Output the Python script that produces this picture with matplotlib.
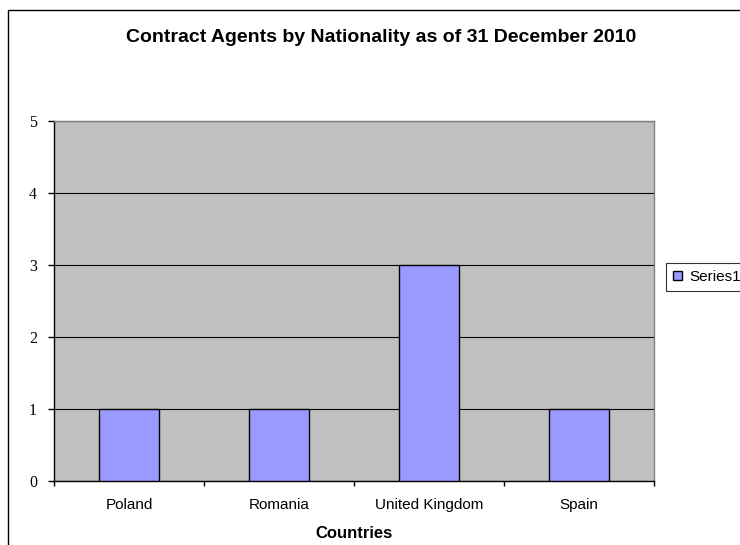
import numpy as np
import matplotlib.pyplot as plt
from matplotlib.patches import Rectangle

# data
countries = ['Poland', 'Romania', 'United Kingdom', 'Spain']
agents = [1, 1, 3, 1]
y_ticks = [0, 1, 2, 3, 4, 5]

W, H = 740, 545
fig = plt.figure(figsize=(W / 100, H / 100), dpi=100)

# chart border (runs off the right/bottom edge like the original)
fig.patches.append(Rectangle((8 / W, -0.1), 1.2, 1 - 10 / H + 0.1, transform=fig.transFigure,
                             fill=False, edgecolor='black', linewidth=1.0))

ax = fig.add_axes([54 / W, 1 - 481 / H, 600 / W, 360 / H])
ax.set_facecolor('#c0c0c0')

x = np.arange(len(countries))
ax.bar(x, agents, width=0.4, color='#9999ff', edgecolor='black', linewidth=1.0,
       label='Series1', zorder=3)

ax.set_xlim(-0.5, len(countries) - 0.5)
ax.set_ylim(0, 5)
ax.set_yticks(y_ticks)
ax.set_yticklabels([str(v) for v in y_ticks], family='Liberation Serif', fontsize=11.5)
ax.yaxis.grid(True, color='black', linewidth=0.8, zorder=1)
ax.set_axisbelow(True)

# category labels between boundary ticks
ax.set_xticks(np.arange(len(countries) + 1) - 0.5)
ax.set_xticklabels([])
ax.set_xticks(x, minor=True)
ax.set_xticklabels(countries, minor=True, family='Liberation Sans', fontsize=11)
ax.tick_params(axis='x', which='minor', length=0, pad=12)
ax.tick_params(axis='x', which='major', length=3.6, width=1, color='black')
ax.tick_params(axis='y', length=4.3, width=1, pad=8)

for s in ['top', 'right']:
    ax.spines[s].set_color('#808080')
    ax.spines[s].set_linewidth(1)
for s in ['left', 'bottom']:
    ax.spines[s].set_color('black')
    ax.spines[s].set_linewidth(1)

ax.set_xlabel('Countries', family='Liberation Sans', fontweight='bold', fontsize=12, labelpad=10)

fig.text(381 / W, 1 - 38 / H, 'Contract Agents by Nationality as of 31 December 2010',
         ha='center', va='center', family='Liberation Sans', fontweight='bold', fontsize=14)

leg = fig.legend(loc='upper left', bbox_to_anchor=(666 / W, 1 - 263 / H),
                 prop={'family': 'Liberation Sans', 'size': 11}, frameon=True, fancybox=False,
                 handlelength=0.6, handleheight=0.6, handletextpad=0.5, borderpad=0.45,
                 borderaxespad=0)
leg.get_frame().set_edgecolor('black')
leg.get_frame().set_linewidth(0.8)

fig.savefig('out.png', dpi=100)
